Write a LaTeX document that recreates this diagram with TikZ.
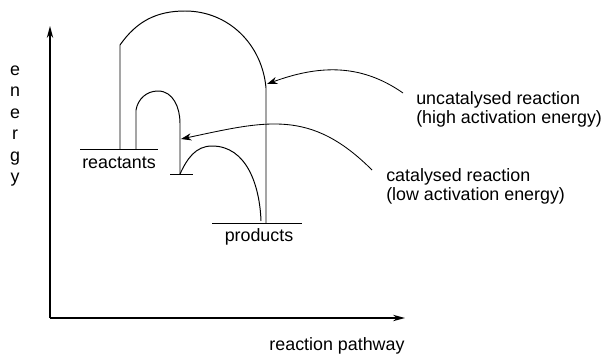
\documentclass[tikz,border=0pt]{standalone}
\usepackage{fontspec}
\setmainfont{Liberation Sans}
\usetikzlibrary{arrows.meta, positioning}

\begin{document}
\begin{tikzpicture}[
    x=0.025cm, y=0.025cm,
    every node/.style={font=\fontsize{12.7}{13.5}\selectfont, inner sep=0pt},
    note/.style={align=left, anchor=west},
    level/.style={line width=0.7pt},
    profile/.style={line width=0.7pt},
    axis/.style={-{Stealth[length=3mm, width=1.6mm]}, line width=0.8pt},
    pointer/.style={-{Stealth[length=2.6mm, width=1.8mm]}, line width=0.6pt}
]
    \useasboundingbox (0,0) rectangle (603,357);

    % Axes
    \coordinate (origin) at (50,39);
    \coordinate (ytop) at (50,331);
    \coordinate (xend) at (405,39);
    \draw[axis] (origin) -- (ytop);
    \draw[axis] (origin) -- (xend);
    \node[align=center, font=\fontsize{12.7}{15.3}\selectfont] (ylab) at (15,231) {e\\n\\e\\r\\g\\y};
    \node (xlab) at (337,11) {reaction pathway};

    % Energy levels
    \draw[level] (80,208) -- (158,208);
    \node (reac) at (119,194) {reactants};
    \draw[level] (170,183) -- (193,183);
    \draw[level] (212,134) -- (302,134);
    \node (prod) at (259,120) {products};

    % Uncatalysed pathway
    \draw[profile] (120,208) -- (120,312) to[out=55,in=180] (185,346)
        to[out=0,in=95] (266,269) -- (266,134);

    % Catalysed pathway
    \draw[profile] (136,208) -- (136,247) to[out=80,in=180] (158,266)
        to[out=0,in=90] (180,234) -- (180,183);
    \draw[profile] (180,183) to[out=65,in=180] (212,211)
        to[out=0,in=92] (261,136);

    % Labels
    \node[note] (uncat) at (416,248) {uncatalysed reaction\\(high activation energy)};
    \node[note] (cat) at (386,171) {catalysed reaction\\(low activation energy)};

    % Pointers
    \coordinate (uncatTail) at (403,264);
    \coordinate (uncatTip) at (267,273);
    \coordinate (catTail) at (372,187);
    \coordinate (catTip) at (181,218);
    \draw[pointer] (uncatTail) to[out=145,in=20] (uncatTip);
    \draw[pointer] (catTail) to[out=135,in=12, looseness=1.15] (catTip);

\end{tikzpicture}
\end{document}
